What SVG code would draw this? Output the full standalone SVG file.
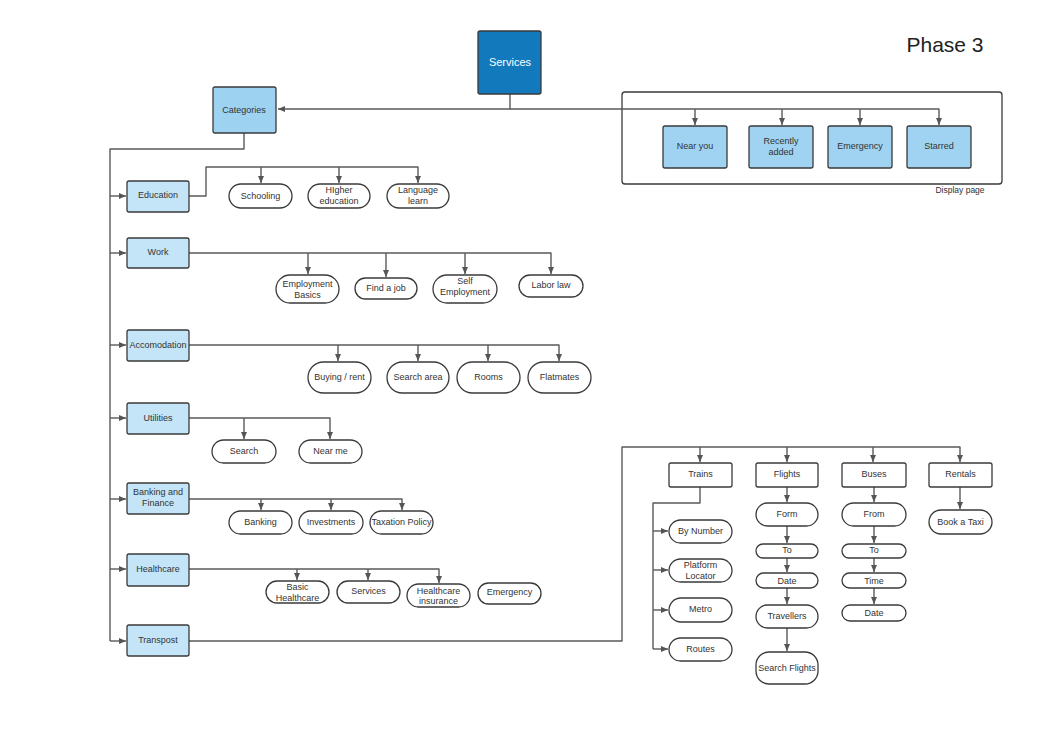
<svg xmlns="http://www.w3.org/2000/svg" width="1040" height="736" viewBox="0 0 1040 736">
<defs>
<marker id="ah" markerUnits="userSpaceOnUse" markerWidth="8" markerHeight="7" refX="7" refY="3.5" orient="auto">
<path d="M0,0.5 L7,3.5 L0,6.5 z" fill="#555"/>
</marker>
<style>
.c{fill:none;stroke:#5a5a5a;stroke-width:1.4;stroke-linejoin:round}
.a{marker-end:url(#ah)}
.box{stroke:#3a3a3a;stroke-width:1.3}
.cat{fill:#c4e5f7}
.dp{fill:#9fd3f1}
.pill{fill:#fff;stroke:#3a3a3a;stroke-width:1.3}
.wb{fill:#fff;stroke:#3a3a3a;stroke-width:1.3}
text{font-family:"Liberation Sans",Arial,sans-serif;font-size:9px;fill:#333;text-anchor:middle}
</style>
</defs>
<rect width="1040" height="736" fill="#fff"/>
<text x="945" y="52" style="font-size:21px;fill:#222">Phase 3</text>
<rect x="622" y="92" width="380" height="92" rx="3" fill="none" stroke="#3a3a3a" stroke-width="1.3"/>
<text x="960" y="193" style="font-size:8.5px">Display page</text>

<g id="connectors">
<path class="c a" d="M510,94 V109 H278"/>
<path class="c a" d="M510,109 H939 V125"/>
<path class="c a" d="M695,109 V125"/>
<path class="c a" d="M782,109 V125"/>
<path class="c a" d="M860,109 V125"/>
<path class="c" d="M244,133 V149 H110 V641"/>
<path class="c a" d="M110,196 H126"/>
<path class="c a" d="M110,253 H126"/>
<path class="c a" d="M110,345 H126"/>
<path class="c a" d="M110,418 H126"/>
<path class="c a" d="M110,499 H126"/>
<path class="c a" d="M110,569 H126"/>
<path class="c a" d="M110,641 H126"/>
<path class="c a" d="M189,196 H206 V167 H418 V183"/>
<path class="c a" d="M261,167 V183"/>
<path class="c a" d="M339,167 V183"/>
<path class="c a" d="M189,253 H551 V274"/>
<path class="c a" d="M308,253 V274"/>
<path class="c a" d="M386,253 V277"/>
<path class="c a" d="M465,253 V274"/>
<path class="c a" d="M189,345 H559 V361"/>
<path class="c a" d="M338,345 V361"/>
<path class="c a" d="M418,345 V361"/>
<path class="c a" d="M488,345 V361"/>
<path class="c a" d="M189,418 H330 V439"/>
<path class="c a" d="M244,418 V439"/>
<path class="c a" d="M189,499 H402 V510"/>
<path class="c a" d="M261,499 V510"/>
<path class="c a" d="M331,499 V510"/>
<path class="c a" d="M189,569 H439 V583"/>
<path class="c a" d="M297,569 V580"/>
<path class="c a" d="M368,569 V580"/>
<path class="c a" d="M189,641 H622 V447 H960 V462"/>
<path class="c a" d="M700,447 V462"/>
<path class="c a" d="M787,447 V462"/>
<path class="c a" d="M873,447 V462"/>
<path class="c" d="M700,487 V503 H653 V649"/>
<path class="c a" d="M653,531 H668"/>
<path class="c a" d="M653,570 H668"/>
<path class="c a" d="M653,610 H668"/>
<path class="c a" d="M653,649 H668"/>
<path class="c a" d="M787,487 V502"/>
<path class="c a" d="M787,526 V543"/>
<path class="c a" d="M787,558 V572"/>
<path class="c a" d="M787,588 V604"/>
<path class="c a" d="M787,628 V651"/>
<path class="c a" d="M874,487 V502"/>
<path class="c a" d="M874,526 V543"/>
<path class="c a" d="M874,558 V572"/>
<path class="c a" d="M874,588 V604"/>
<path class="c a" d="M960,487 V509"/>
</g>

<g id="services"><rect class="box" x="478" y="31" width="63" height="63" rx="2" fill="#1279bc"/><text x="510" y="65.5" style="font-size:11px;fill:#fff">Services</text></g>
<g id="categories"><rect class="box" x="213" y="87" width="63" height="46" rx="2" fill="#9dd2f0"/><text x="244" y="113">Categories</text></g>

<g id="near-you"><rect class="box dp" x="663" y="126" width="64" height="42" rx="2"/><text x="695" y="149">Near you</text></g>
<g id="recently-added"><rect class="box dp" x="749" y="126" width="64" height="42" rx="2"/><text x="781" y="144">Recently</text><text x="781" y="154.5">added</text></g>
<g id="emergency-dp"><rect class="box dp" x="828" y="126" width="64" height="42" rx="2"/><text x="860" y="149">Emergency</text></g>
<g id="starred"><rect class="box dp" x="907" y="126" width="64" height="42" rx="2"/><text x="939" y="149">Starred</text></g>

<g id="education"><rect class="box cat" x="127" y="181" width="62" height="31" rx="2"/><text x="158" y="198">Education</text></g>
<g id="work"><rect class="box cat" x="127" y="238" width="62" height="30" rx="2"/><text x="158" y="254.5">Work</text></g>
<g id="accomodation"><rect class="box cat" x="127" y="330" width="62" height="31" rx="2"/><text x="158" y="347.5">Accomodation</text></g>
<g id="utilities"><rect class="box cat" x="127" y="403" width="62" height="31" rx="2"/><text x="158" y="420.5">Utilities</text></g>
<g id="banking-finance"><rect class="box cat" x="127" y="483" width="62" height="31" rx="2"/><text x="158" y="495">Banking and</text><text x="158" y="505.5">Finance</text></g>
<g id="healthcare"><rect class="box cat" x="127" y="554" width="62" height="32" rx="2"/><text x="158" y="571.5">Healthcare</text></g>
<g id="transpost"><rect class="box cat" x="127" y="625" width="62" height="31" rx="2"/><text x="158" y="642.5">Transpost</text></g>

<g id="schooling"><rect class="pill" x="229" y="184" width="63" height="24" rx="12"/><text x="260.5" y="198.5">Schooling</text></g>
<g id="higher-education"><rect class="pill" x="308" y="184" width="62" height="24" rx="12"/><text x="339" y="193">HIgher</text><text x="339" y="203.5">education</text></g>
<g id="language-learn"><rect class="pill" x="387" y="184" width="62" height="24" rx="12"/><text x="418" y="193">Language</text><text x="418" y="203.5">learn</text></g>

<g id="employment-basics"><rect class="pill" x="276" y="275" width="63" height="28" rx="14"/><text x="307.5" y="287">Employment</text><text x="307.5" y="297.5">Basics</text></g>
<g id="find-a-job"><rect class="pill" x="355" y="278" width="62" height="21" rx="10.5"/><text x="386" y="291">Find a job</text></g>
<g id="self-employment"><rect class="pill" x="433" y="275" width="64" height="28" rx="14"/><text x="465" y="283.5">Self</text><text x="465" y="294.5">Employment</text></g>
<g id="labor-law"><rect class="pill" x="519" y="275" width="64" height="22" rx="11"/><text x="551" y="287.5">Labor law</text></g>

<g id="buying-rent"><rect class="pill" x="308" y="362" width="63" height="31" rx="15.5"/><text x="339.5" y="379.5">Buying / rent</text></g>
<g id="search-area"><rect class="pill" x="387" y="362" width="62" height="31" rx="15.5"/><text x="418" y="379.5">Search area</text></g>
<g id="rooms"><rect class="pill" x="457" y="362" width="63" height="31" rx="15.5"/><text x="488.5" y="379.5">Rooms</text></g>
<g id="flatmates"><rect class="pill" x="528" y="362" width="63" height="31" rx="15.5"/><text x="559.5" y="379.5">Flatmates</text></g>

<g id="search"><rect class="pill" x="212" y="440" width="64" height="23" rx="11.5"/><text x="244" y="454">Search</text></g>
<g id="near-me"><rect class="pill" x="299" y="440" width="63" height="23" rx="11.5"/><text x="330.5" y="454">Near me</text></g>

<g id="banking"><rect class="pill" x="229" y="511" width="63" height="23" rx="11.5"/><text x="260.5" y="525">Banking</text></g>
<g id="investments"><rect class="pill" x="299" y="511" width="64" height="23" rx="11.5"/><text x="331" y="525">Investments</text></g>
<g id="taxation-policy"><rect class="pill" x="370" y="511" width="63" height="23" rx="11.5"/><text x="401.5" y="525">Taxation Policy</text></g>

<g id="basic-healthcare"><rect class="pill" x="266" y="581" width="63" height="22" rx="11"/><text x="297.5" y="590">Basic</text><text x="297.5" y="600.5">Healthcare</text></g>
<g id="services-h"><rect class="pill" x="337" y="581" width="63" height="22" rx="11"/><text x="368.5" y="593.5">Services</text></g>
<g id="healthcare-insurance"><rect class="pill" x="407" y="584" width="63" height="23" rx="11.5"/><text x="438.5" y="593.5">Healthcare</text><text x="438.5" y="604">insurance</text></g>
<g id="emergency-h"><rect class="pill" x="478" y="583" width="63" height="21" rx="10.5"/><text x="509.5" y="595">Emergency</text></g>

<g id="trains"><rect class="wb" x="669" y="463" width="63" height="24" rx="2"/><text x="700.5" y="477">Trains</text></g>
<g id="flights"><rect class="wb" x="756" y="463" width="62" height="24" rx="2"/><text x="787" y="477">Flights</text></g>
<g id="buses"><rect class="wb" x="842" y="463" width="64" height="24" rx="2"/><text x="874" y="477">Buses</text></g>
<g id="rentals"><rect class="wb" x="929" y="463" width="63" height="24" rx="2"/><text x="960.5" y="477">Rentals</text></g>

<g id="by-number"><rect class="pill" x="669" y="520" width="63" height="23" rx="11.5"/><text x="700.5" y="534">By Number</text></g>
<g id="platform-locator"><rect class="pill" x="669" y="559" width="63" height="23" rx="11.5"/><text x="700.5" y="568">Platform</text><text x="700.5" y="578.5">Locator</text></g>
<g id="metro"><rect class="pill" x="669" y="598" width="63" height="24" rx="12"/><text x="700.5" y="612">Metro</text></g>
<g id="routes"><rect class="pill" x="669" y="638" width="63" height="23" rx="11.5"/><text x="700.5" y="651.5">Routes</text></g>

<g id="form"><rect class="pill" x="756" y="503" width="62" height="23" rx="11.5"/><text x="787" y="517">Form</text></g>
<g id="to-f"><rect class="pill" x="756" y="544" width="62" height="14" rx="7"/><text x="787" y="552.5">To</text></g>
<g id="date-f"><rect class="pill" x="756" y="573" width="62" height="15" rx="7.5"/><text x="787" y="583.5">Date</text></g>
<g id="travellers"><rect class="pill" x="756" y="605" width="62" height="23" rx="11.5"/><text x="787" y="619">Travellers</text></g>
<g id="search-flights"><rect class="pill" x="756" y="652" width="62" height="32" rx="13"/><text x="787" y="670.5">Search Flights</text></g>

<g id="from"><rect class="pill" x="842" y="503" width="64" height="23" rx="11.5"/><text x="874" y="517">From</text></g>
<g id="to-b"><rect class="pill" x="842" y="544" width="64" height="14" rx="7"/><text x="874" y="552.5">To</text></g>
<g id="time"><rect class="pill" x="842" y="573" width="64" height="15" rx="7.5"/><text x="874" y="583.5">Time</text></g>
<g id="date-b"><rect class="pill" x="842" y="605" width="64" height="16" rx="8"/><text x="874" y="615.5">Date</text></g>

<g id="book-a-taxi"><rect class="pill" x="929" y="510" width="63" height="24" rx="12"/><text x="960.5" y="524.5">Book a Taxi</text></g>
</svg>
